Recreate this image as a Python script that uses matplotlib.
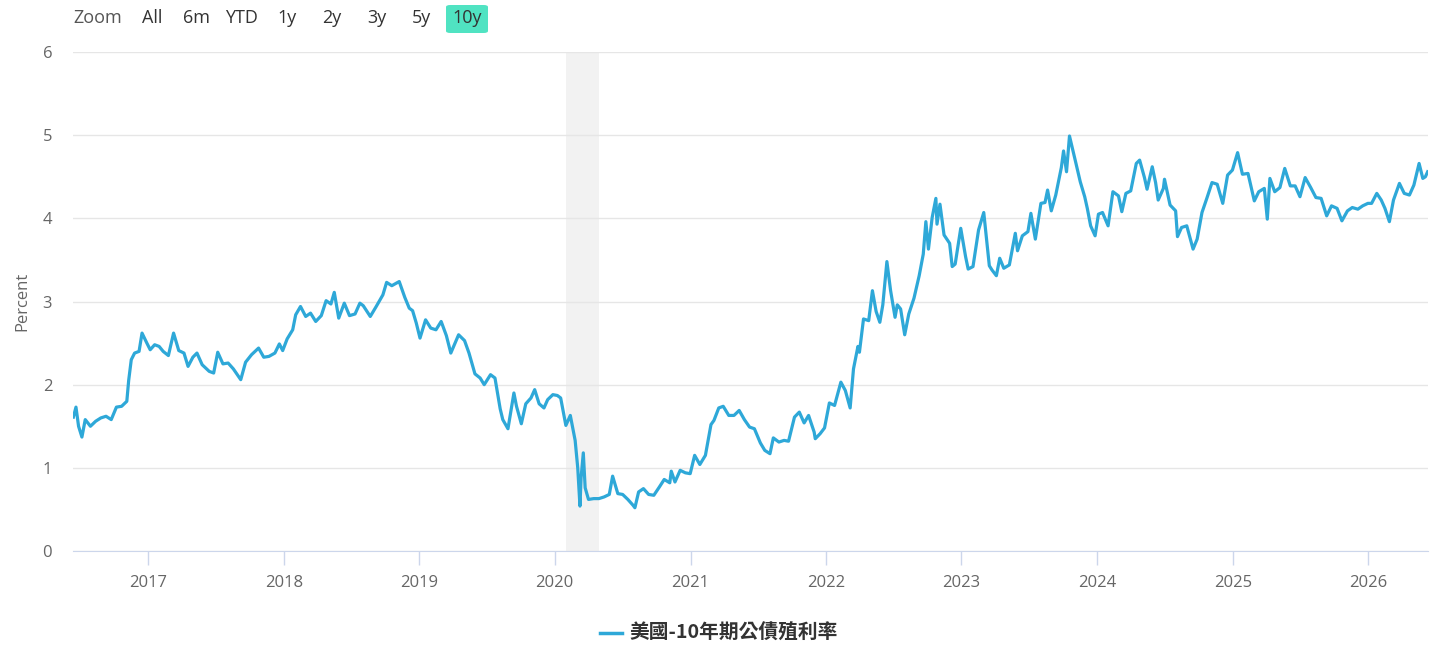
import pandas as pd
import matplotlib
matplotlib.use("Agg")
import matplotlib.pyplot as plt
import matplotlib.dates as mdates
from matplotlib.patches import FancyBboxPatch

plt.rcParams['font.family'] = ['Open Sans', 'Noto Sans CJK TC', 'DejaVu Sans']

# US 10y treasury yield (date, percent)
y2016 = [("06-13", 1.61), ("06-20", 1.73), ("06-27", 1.50), ("07-06", 1.37), ("07-15", 1.58),
         ("07-29", 1.50), ("08-12", 1.56), ("08-26", 1.60), ("09-09", 1.62), ("09-23", 1.58),
         ("10-07", 1.73), ("10-21", 1.74), ("11-04", 1.80), ("11-09", 2.05), ("11-16", 2.30),
         ("11-25", 2.38), ("12-07", 2.40), ("12-15", 2.62), ("12-28", 2.50)]
y2017 = [("01-06", 2.42), ("01-18", 2.48), ("01-30", 2.46), ("02-10", 2.40), ("02-24", 2.35),
         ("03-10", 2.62), ("03-24", 2.41), ("04-07", 2.38), ("04-18", 2.22), ("05-01", 2.33),
         ("05-12", 2.38), ("05-26", 2.24), ("06-14", 2.16), ("06-26", 2.14), ("07-07", 2.39),
         ("07-21", 2.25), ("08-04", 2.26), ("08-18", 2.19), ("09-07", 2.06), ("09-20", 2.27),
         ("10-06", 2.36), ("10-25", 2.44), ("11-08", 2.33), ("11-22", 2.34), ("12-08", 2.38),
         ("12-20", 2.49), ("12-29", 2.41)]
y2018 = [("01-10", 2.55), ("01-25", 2.66), ("02-02", 2.84), ("02-15", 2.94), ("03-01", 2.82),
         ("03-14", 2.86), ("03-28", 2.76), ("04-12", 2.83), ("04-25", 3.01), ("05-08", 2.97),
         ("05-17", 3.11), ("05-29", 2.80), ("06-13", 2.98), ("06-27", 2.83), ("07-12", 2.85),
         ("07-25", 2.98), ("08-03", 2.95), ("08-22", 2.82), ("09-07", 2.94), ("09-25", 3.08),
         ("10-05", 3.23), ("10-19", 3.19), ("11-08", 3.24), ("11-23", 3.05), ("12-05", 2.92),
         ("12-14", 2.89), ("12-24", 2.74)]
y2019 = [("01-03", 2.56), ("01-18", 2.78), ("02-01", 2.68), ("02-15", 2.66), ("03-01", 2.76),
         ("03-15", 2.59), ("03-27", 2.38), ("04-17", 2.60), ("05-03", 2.53), ("05-15", 2.38),
         ("05-31", 2.13), ("06-14", 2.08), ("06-25", 2.00), ("07-12", 2.12), ("07-24", 2.08),
         ("08-07", 1.71), ("08-14", 1.58), ("08-28", 1.47), ("09-13", 1.90), ("09-20", 1.74),
         ("10-03", 1.53), ("10-15", 1.77), ("10-29", 1.84), ("11-08", 1.94), ("11-20", 1.77),
         ("12-03", 1.72), ("12-13", 1.82), ("12-27", 1.88)]
y2020 = [("01-08", 1.87), ("01-17", 1.84), ("01-31", 1.51), ("02-12", 1.63), ("02-25", 1.33),
         ("03-03", 1.00), ("03-09", 0.54), ("03-12", 0.88), ("03-18", 1.18), ("03-23", 0.76),
         ("04-01", 0.62), ("04-15", 0.63), ("04-29", 0.63), ("05-13", 0.65), ("05-27", 0.68),
         ("06-05", 0.90), ("06-19", 0.69), ("07-02", 0.68), ("07-16", 0.62), ("07-30", 0.55),
         ("08-04", 0.52), ("08-14", 0.71), ("08-27", 0.75), ("09-10", 0.68), ("09-24", 0.67),
         ("10-09", 0.77), ("10-22", 0.86), ("11-06", 0.82), ("11-10", 0.96), ("11-20", 0.83),
         ("12-04", 0.97), ("12-18", 0.94), ("12-31", 0.93)]
y2021 = [("01-12", 1.15), ("01-26", 1.04), ("02-10", 1.15), ("02-25", 1.52), ("03-05", 1.57),
         ("03-18", 1.72), ("03-30", 1.74), ("04-14", 1.63), ("04-28", 1.63), ("05-12", 1.69),
         ("05-26", 1.58), ("06-09", 1.49), ("06-22", 1.47), ("07-08", 1.30), ("07-20", 1.21),
         ("08-03", 1.17), ("08-12", 1.36), ("08-27", 1.31), ("09-10", 1.33), ("09-22", 1.32),
         ("10-08", 1.61), ("10-21", 1.67), ("11-03", 1.54), ("11-15", 1.63), ("11-30", 1.43),
         ("12-03", 1.35), ("12-16", 1.41), ("12-28", 1.48)]
y2022 = [("01-10", 1.78), ("01-24", 1.75), ("02-10", 2.03), ("02-22", 1.93), ("03-07", 1.72),
         ("03-16", 2.19), ("03-28", 2.46), ("04-01", 2.39), ("04-12", 2.79), ("04-26", 2.77),
         ("05-06", 3.13), ("05-16", 2.88), ("05-26", 2.75), ("06-03", 2.96), ("06-14", 3.48),
         ("06-24", 3.13), ("07-06", 2.81), ("07-12", 2.96), ("07-21", 2.91), ("08-01", 2.60),
         ("08-12", 2.85), ("08-26", 3.04), ("09-09", 3.31), ("09-20", 3.57), ("09-27", 3.96),
         ("10-04", 3.63), ("10-14", 4.01), ("10-24", 4.24), ("10-27", 3.93), ("11-04", 4.17),
         ("11-15", 3.80), ("11-30", 3.70), ("12-07", 3.42), ("12-15", 3.45), ("12-30", 3.88)]
y2023 = [("01-12", 3.54), ("01-19", 3.39), ("02-01", 3.42), ("02-16", 3.86), ("03-02", 4.07),
         ("03-17", 3.43), ("03-24", 3.38), ("04-05", 3.31), ("04-14", 3.52), ("04-25", 3.40),
         ("05-10", 3.44), ("05-26", 3.82), ("06-01", 3.61), ("06-14", 3.79), ("06-29", 3.84),
         ("07-07", 4.06), ("07-19", 3.75), ("08-03", 4.18), ("08-14", 4.19), ("08-21", 4.34),
         ("08-31", 4.09), ("09-12", 4.28), ("09-27", 4.61), ("10-03", 4.81), ("10-11", 4.56),
         ("10-19", 4.99), ("10-27", 4.84), ("11-06", 4.65), ("11-17", 4.44), ("11-29", 4.26),
         ("12-06", 4.12), ("12-15", 3.91), ("12-27", 3.79)]
y2024 = [("01-05", 4.05), ("01-16", 4.07), ("01-31", 3.91), ("02-13", 4.32), ("02-28", 4.27),
         ("03-08", 4.08), ("03-19", 4.30), ("04-01", 4.33), ("04-16", 4.66), ("04-25", 4.70),
         ("05-08", 4.49), ("05-15", 4.35), ("05-29", 4.62), ("06-07", 4.43), ("06-14", 4.22),
         ("06-28", 4.36), ("07-01", 4.47), ("07-16", 4.16), ("07-31", 4.09), ("08-05", 3.78),
         ("08-16", 3.89), ("08-30", 3.91), ("09-16", 3.63), ("09-27", 3.75), ("10-10", 4.07),
         ("10-23", 4.24), ("11-06", 4.43), ("11-20", 4.41), ("12-05", 4.18), ("12-18", 4.52),
         ("12-31", 4.58)]
y2025 = [("01-14", 4.79), ("01-27", 4.53), ("02-11", 4.54), ("02-28", 4.21), ("03-12", 4.32),
         ("03-27", 4.36), ("04-04", 3.99), ("04-11", 4.48), ("04-24", 4.32), ("05-08", 4.37),
         ("05-21", 4.60), ("06-05", 4.39), ("06-18", 4.39), ("07-01", 4.26), ("07-15", 4.49),
         ("07-30", 4.37), ("08-13", 4.25), ("08-27", 4.24), ("09-11", 4.03), ("09-24", 4.15),
         ("10-09", 4.12), ("10-22", 3.97), ("11-06", 4.09), ("11-19", 4.13), ("12-04", 4.11),
         ("12-17", 4.15), ("12-31", 4.18)]
y2026 = [("01-10", 4.18), ("01-24", 4.30), ("02-05", 4.22), ("02-15", 4.12), ("02-27", 3.96),
         ("03-10", 4.22), ("03-26", 4.42), ("04-08", 4.30), ("04-22", 4.28), ("05-04", 4.40),
         ("05-18", 4.66), ("05-28", 4.48), ("06-04", 4.50), ("06-10", 4.56)]

years = {2016: y2016, 2017: y2017, 2018: y2018, 2019: y2019, 2020: y2020, 2021: y2021,
         2022: y2022, 2023: y2023, 2024: y2024, 2025: y2025, 2026: y2026}

recession = ("2020-02-01", "2020-04-30")
buttons = ["Zoom", "All", "6m", "YTD", "1y", "2y", "3y", "5y", "10y"]
button_x = [98, 152, 197, 241, 287, 332, 377, 421, 467]
series_name = "美國-10年期公債殖利率"

dates = []
vals = []
for yr, pts in years.items():
    for md, v in pts:
        dates.append(pd.Timestamp(f"{yr}-{md}"))
        vals.append(v)

W, H = 1456, 664
fig = plt.figure(figsize=(W / 100, H / 100), dpi=100)
ax = fig.add_axes([73 / W, 1 - 551 / H, (1428 - 73) / W, (551 - 52) / H])

line_color = "#2ea8d8"
ax.axvspan(pd.Timestamp(recession[0]), pd.Timestamp(recession[1]), color="#f2f2f2", lw=0, zorder=0)
ax.plot(dates, vals, color=line_color, lw=2.3, zorder=3)

ax.set_xlim(pd.Timestamp("2016-06-12"), pd.Timestamp("2026-06-11"))
ax.set_ylim(0, 6)
ax.set_yticks(range(0, 7))
ax.grid(axis="y", color="#e6e6e6", lw=1)
ax.set_axisbelow(True)

for s in ["top", "right", "left"]:
    ax.spines[s].set_visible(False)
ax.spines["bottom"].set_color("#ccd6eb")
ax.spines["bottom"].set_zorder(4)

ax.xaxis.set_major_locator(mdates.YearLocator())
ax.xaxis.set_major_formatter(mdates.DateFormatter("%Y"))
ax.tick_params(axis="x", length=10, width=1, color="#ccd6eb", pad=7, labelsize=12, labelcolor="#666666")
ax.tick_params(axis="y", length=0, pad=15, labelsize=12, labelcolor="#666666")

fig.text(22 / W, 1 - 301 / H, "Percent", rotation=90, ha="center", va="center", fontsize=12, color="#666666")

# range selector buttons
box = FancyBboxPatch((446 / W, 1 - 33 / H), 42 / W, 28 / H, boxstyle="round,pad=0,rounding_size=0.003",
                     transform=fig.transFigure, facecolor="#50e3c2", edgecolor="none")
fig.patches.append(box)
for b, bx in zip(buttons, button_x):
    fig.text(bx / W, 1 - 18 / H, b, ha="center", va="center", fontsize=13,
             color="#555555" if b == "Zoom" else "#333333")

# legend
fig.lines.append(plt.Line2D([600 / W, 622 / W], [1 - 633 / H, 1 - 633 / H], transform=fig.transFigure,
                            color=line_color, lw=2.5))
fig.text(629 / W, 1 - 633 / H, series_name, ha="left", va="center", fontsize=14.2, fontweight="bold",
         color="#333333", family=["Noto Sans CJK TC", "DejaVu Sans"])

fig.savefig("out.png", dpi=100)
